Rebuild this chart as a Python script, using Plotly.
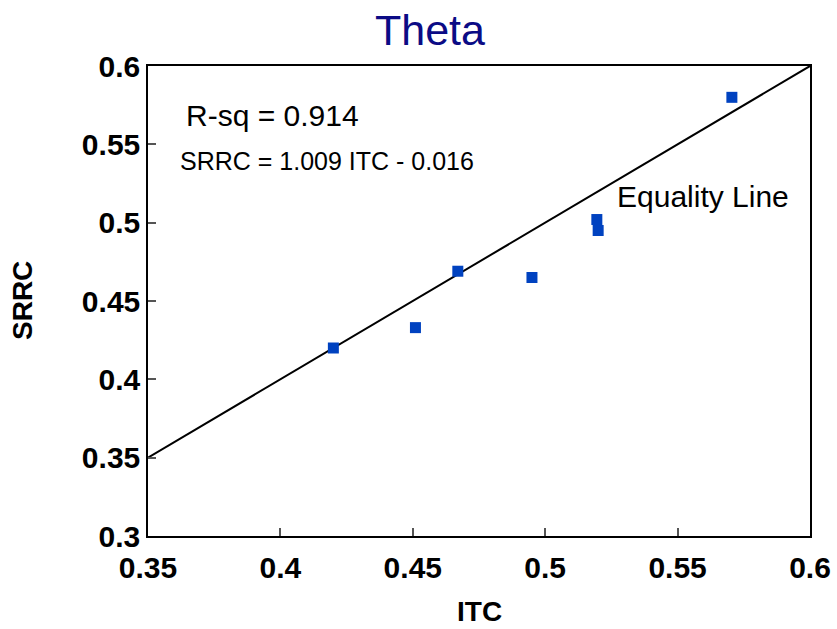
import plotly.graph_objects as go

itc = [0.420, 0.451, 0.467, 0.495, 0.5195, 0.520, 0.5705]
srrc = [0.420, 0.433, 0.469, 0.465, 0.502, 0.495, 0.580]
eq_x = [0.35, 0.6]
eq_y = [0.35, 0.6]
tick_vals = [0.3, 0.35, 0.4, 0.45, 0.5, 0.55, 0.6]
tick_text = ["0.3", "0.35", "0.4", "0.45", "0.5", "0.55", "0.6"]

fig = go.Figure()
fig.add_trace(go.Scatter(x=eq_x, y=eq_y, mode="lines",
                         line=dict(color="black", width=2), hoverinfo="skip"))
fig.add_trace(go.Scatter(x=itc, y=srrc, mode="markers",
                         marker=dict(symbol="square", size=11, color="#0042C0",
                                     line=dict(width=0))))

font = "Liberation Sans, Arial, Helvetica, sans-serif"
fig.update_layout(
    width=837, height=629,
    margin=dict(l=148, r=27, t=66, b=93, autoexpand=False),
    paper_bgcolor="white", plot_bgcolor="white",
    showlegend=False,
    font=dict(family=font, color="black"),
    title=dict(text="Theta", x=430 / 837, xanchor="center", y=1 - 30 / 629, yanchor="middle",
               font=dict(size=43, color="#0b0b85", family=font)),
    xaxis=dict(range=[0.35, 0.6], tickvals=tick_vals[1:], ticktext=tick_text[1:],
               ticks="inside", ticklen=8, tickwidth=1.5, tickcolor="#555",
               showline=True, linecolor="black", linewidth=1.5, mirror=True,
               showgrid=False, zeroline=False, ticklabelstandoff=4, automargin=False,
               tickfont=dict(size=30, family=font, weight="bold")),
    yaxis=dict(range=[0.3, 0.6], tickvals=tick_vals, ticktext=tick_text,
               ticks="inside", ticklen=8, tickwidth=1.5, tickcolor="#555",
               showline=True, linecolor="black", linewidth=1.5, mirror=True,
               showgrid=False, zeroline=False, automargin=False,
               tickfont=dict(size=30, family=font, weight="bold")),
    annotations=[
        dict(text="<b>ITC</b>", x=0.5, y=-(611 - 536) / 470, xref="paper", yref="paper",
             xanchor="center", yanchor="middle", showarrow=False,
             font=dict(size=28, family=font, color="black")),
        dict(text="<b>SRRC</b>", x=-(148 - 22) / 662, y=0.5, xref="paper", yref="paper",
             xanchor="center", yanchor="middle", showarrow=False, textangle=-90,
             font=dict(size=28, family=font, color="black")),
        dict(text="R-sq = 0.914", x=0.3635, y=0.5685, xref="x", yref="y",
             xanchor="left", yanchor="middle", showarrow=False,
             font=dict(size=30, family=font, color="black")),
        dict(text="SRRC = 1.009 ITC - 0.016", x=0.3615, y=0.5395, xref="x", yref="y",
             xanchor="left", yanchor="middle", showarrow=False,
             font=dict(size=25, family=font, color="black")),
        dict(text="Equality Line", x=0.5265, y=0.517, xref="x", yref="y",
             xanchor="left", yanchor="middle", showarrow=False,
             font=dict(size=30, family=font, color="black")),
    ],
)
fig.write_html("out.html")
